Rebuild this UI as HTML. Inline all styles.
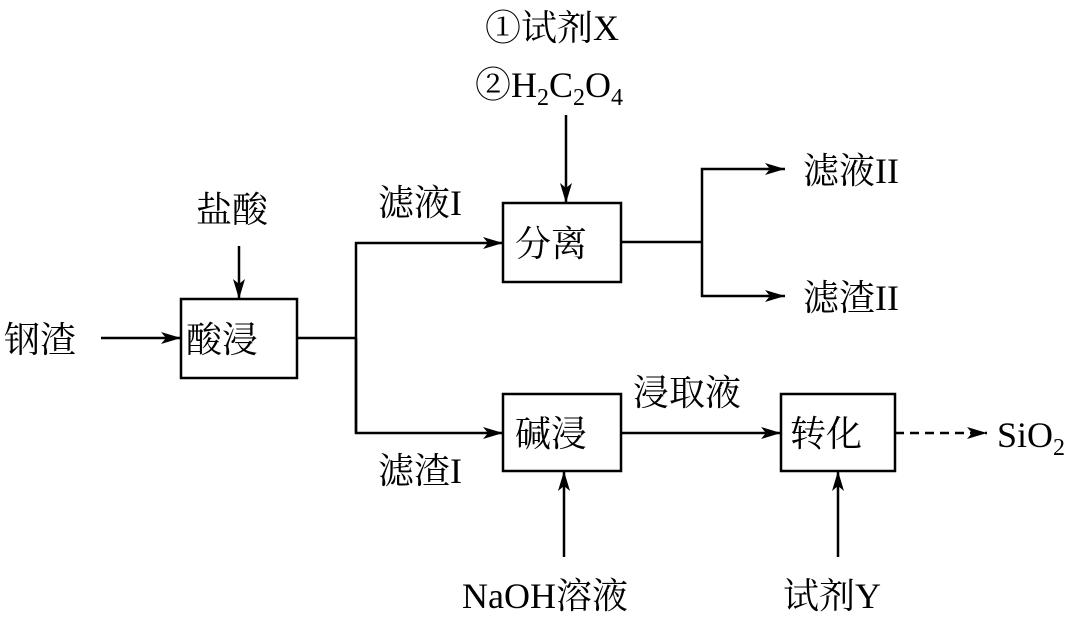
<!DOCTYPE html>
<html><head><meta charset="utf-8"><style>
html,body{margin:0;padding:0;background:#fff;}
svg{display:block;}
text{font-family:"Liberation Serif","Noto Serif CJK SC","Noto Sans CJK SC",serif;font-size:36px;fill:#000;}
</style></head><body>
<svg width="1080" height="617" viewBox="0 0 1080 617" xmlns="http://www.w3.org/2000/svg">
<defs>
<marker id="a" viewBox="0 0 20 12" refX="20" refY="6" markerWidth="20" markerHeight="12" markerUnits="userSpaceOnUse" orient="auto">
<path d="M0,0 L20,6 L0,12 L5,6 Z" fill="#000"/>
</marker>
</defs>
<g stroke="#000" stroke-width="2.5" fill="none">
<rect x="181" y="299" width="116" height="79"/>
<rect x="503" y="203" width="118" height="79"/>
<rect x="503" y="394" width="118" height="77"/>
<rect x="781" y="394" width="114" height="77"/>
<line x1="101" y1="338" x2="181" y2="338" marker-end="url(#a)"/>
<line x1="239" y1="246" x2="239" y2="299" marker-end="url(#a)"/>
<polyline points="297,338 356,338"/>
<polyline points="356,433 356,243 503,243" marker-end="url(#a)"/>
<polyline points="356,338 356,433 503,433" marker-end="url(#a)"/>
<line x1="566" y1="115" x2="566" y2="203" marker-end="url(#a)"/>
<polyline points="621,242 702,242"/>
<polyline points="702,242 702,169 785,169" marker-end="url(#a)"/>
<polyline points="702,242 702,296 785,296" marker-end="url(#a)"/>
<line x1="621" y1="433" x2="781" y2="433" marker-end="url(#a)"/>
<line x1="895" y1="433" x2="987" y2="433" stroke-dasharray="9,6" marker-end="url(#a)"/>
<line x1="564" y1="557" x2="564" y2="471" marker-end="url(#a)"/>
<line x1="838" y1="557" x2="838" y2="471" marker-end="url(#a)"/>
</g>
<text x="4" y="352">钢渣</text>
<text x="196" y="222">盐酸</text>
<text x="186" y="352">酸浸</text>
<text x="378" y="215">滤液I</text>
<text x="378" y="483">滤渣I</text>
<text x="515" y="256">分离</text>
<text x="515" y="446">碱浸</text>
<text x="790" y="446">转化</text>
<text x="633" y="405">浸取液</text>
<text x="485" y="40">①试剂X</text>
<text x="475" y="97">②H<tspan font-size="24" dy="8">2</tspan><tspan dy="-8">C</tspan><tspan font-size="24" dy="8">2</tspan><tspan dy="-8">O</tspan><tspan font-size="24" dy="8">4</tspan></text>
<text x="803" y="183">滤液II</text>
<text x="803" y="310">滤渣II</text>
<text x="997" y="447">SiO<tspan font-size="24" dy="8">2</tspan></text>
<text x="462" y="608">NaOH溶液</text>
<text x="783" y="608">试剂Y</text>
</svg>
</body></html>
